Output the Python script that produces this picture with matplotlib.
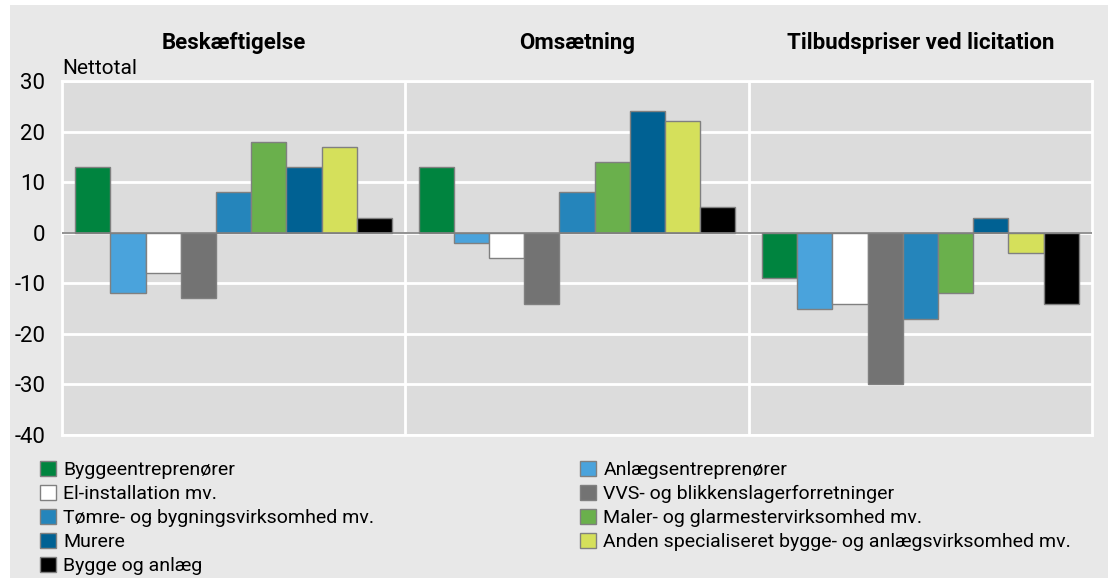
import numpy as np
import matplotlib.pyplot as plt
from matplotlib.patches import Rectangle

plt.rcParams['font.family'] = ['Roboto', 'DejaVu Sans']
plt.rcParams['axes.unicode_minus'] = False

groups = ["Beskæftigelse", "Omsætning", "Tilbudspriser ved licitation"]
series = ["Byggeentreprenører", "Anlægsentreprenører", "El-installation mv.",
          "VVS- og blikkenslagerforretninger", "Tømre- og bygningsvirksomhed mv.",
          "Maler- og glarmestervirksomhed mv.", "Murere",
          "Anden specialiseret bygge- og anlægsvirksomhed mv.", "Bygge og anlæg"]
colors = ["#00843f", "#4aa3dc", "#ffffff", "#737373", "#2585bb",
          "#6ab04c", "#006193", "#d5e05b", "#000000"]

beskaeftigelse = [13, -12, -8, -13, 8, 18, 13, 17, 3]
omsaetning = [13, -2, -5, -14, 8, 14, 24, 22, 5]
tilbudspriser = [-9, -15, -14, -30, -17, -12, 3, -4, -14]
values = np.array([beskaeftigelse, omsaetning, tilbudspriser])

fig = plt.figure(figsize=(11.08, 5.78), dpi=100)
fig.patch.set_facecolor("white")
fig.patches.append(Rectangle((10 / 1108, 0), 1, 1 - 5 / 578, transform=fig.transFigure,
                             facecolor="#e8e8e8", edgecolor="none", zorder=-10))

ax = fig.add_axes([62 / 1108, 1 - 435 / 578, (1092 - 62) / 1108, (435 - 81) / 578])
ax.set_facecolor("#dcdcdc")

pad = 0.375
G = 9 + 2 * pad
handles = []
for i, name in enumerate(series):
    x = np.arange(3) * G + i
    b = ax.bar(x, values[:, i], width=1.0, color=colors[i], edgecolor="#808080",
               linewidth=1.0, zorder=3, label=name)
    handles.append(b)

ax.set_xlim(-0.5 - pad, 3 * G - 0.5 - pad)
ax.set_ylim(-40, 30)
ax.set_yticks(range(-40, 31, 10))
ax.set_xticks([])
ax.tick_params(axis="y", length=0, pad=12, labelsize=16)
ax.grid(axis="y", color="white", linewidth=2, zorder=1)
for g in range(1, 3):
    ax.axvline(g * G - 0.5 - pad, color="white", linewidth=2, zorder=1)
ax.axhline(0, color="#808080", linewidth=1.2, zorder=4)
for s in ax.spines.values():
    s.set_color("white")
    s.set_linewidth(2)

for g, title in enumerate(groups):
    ax.text(g * G + 4, 1.107, title, transform=ax.get_xaxis_transform(),
            ha="center", va="center", fontsize=16, fontweight="bold")
ax.text(0, 1.035, "Nettotal", transform=ax.transAxes, ha="left", va="center", fontsize=15)

left = [0, 2, 4, 6, 8]
right = [1, 3, 5, 7]
kw = dict(frameon=False, fontsize=14, handlelength=0.8, handleheight=0.8,
          handletextpad=0.4, labelspacing=0.3, borderpad=0, borderaxespad=0)
fig.legend([handles[i] for i in left], [series[i] for i in left],
           loc="upper left", bbox_to_anchor=(40 / 1108, 1 - 461 / 578), **kw)
fig.legend([handles[i] for i in right], [series[i] for i in right],
           loc="upper left", bbox_to_anchor=(580 / 1108, 1 - 461 / 578), **kw)

fig.savefig("out.png", dpi=100)
